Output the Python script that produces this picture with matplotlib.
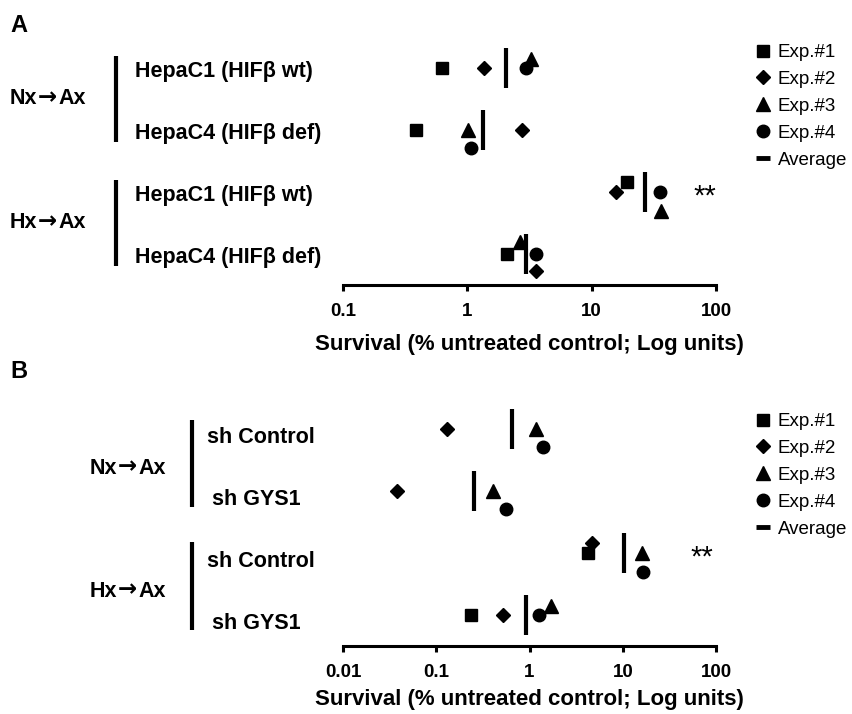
import matplotlib
matplotlib.use('Agg')
import matplotlib.pyplot as plt
from matplotlib.lines import Line2D
from matplotlib.text import Annotation
from matplotlib import transforms
from matplotlib.ticker import FixedLocator, FixedFormatter, NullLocator
import numpy as np

plt.rcParams['font.family'] = ['Liberation Sans', 'DejaVu Sans']

# ---------------- data ----------------
exp_labels = ['Exp.#1', 'Exp.#2', 'Exp.#3', 'Exp.#4', 'Average']
group_labels = [('Nx', '→', 'Ax'), ('Hx', '→', 'Ax')]
x_label = 'Survival (% untreated control; Log units)'

# Panel A (rows top to bottom)
a_rows = ['HepaC1 (HIFβ wt)', 'HepaC4 (HIFβ def)', 'HepaC1 (HIFβ wt)', 'HepaC4 (HIFβ def)']
a_exp1 = [0.63, 0.39, 19.4, 2.09]
a_exp2 = [1.35, 2.76, 15.6, 3.58]
a_exp3 = [3.26, 1.01, 36.0, 2.63]
a_exp4 = [2.94, 1.08, 35.5, 3.58]
a_avg = [2.06, 1.34, 26.7, 2.95]
a_sig = ['', '', '**', '']
a_ticks = [0.1, 1, 10, 100]
a_ticklabels = ['0.1', '1', '10', '100']

# Panel B (rows top to bottom)
b_rows = ['sh Control', 'sh GYS1', 'sh Control', 'sh GYS1']
b_exp1 = [np.nan, np.nan, 4.19, 0.237]
b_exp2 = [0.130, 0.0375, 4.67, 0.526]
b_exp3 = [1.17, 0.405, 16.0, 1.69]
b_exp4 = [1.39, 0.561, 16.6, 1.25]
b_avg = [0.657, 0.255, 10.4, 0.92]
b_sig = ['', '', '**', '']
b_ticks = [0.01, 0.1, 1, 10, 100]
b_ticklabels = ['0.01', '0.1', '1', '10', '100']

# ---------------- layout / style ----------------
W, H = 852, 714
fig = plt.figure(figsize=(W / 100, H / 100), dpi=100)

def fx(px):
    return px / W

def fy(py):
    return 1 - py / H

row_y = [4, 3, 2, 1]
styles = [dict(marker='s', ms=8.5), dict(marker='D', ms=6.8),
          dict(marker='^', ms=9.5), dict(marker='o', ms=9.0)]

# vertical jitter (data units) so overlapping points stay visible
a_dy = [[0, 0, 0.16, 0], [0, 0, 0, -0.28], [0.15, 0, -0.31, 0.19], [0, -0.29, 0, 0]]
b_dy = [[0, 0, 0, 0], [0, 0, 0.16, 0], [0, 0, 0, 0.15], [-0.29, -0.29, -0.30, 0]]

BOLD = dict(fontweight='bold')


def group_label(x_left, y, transform, parts, size):
    t1 = fig.text(x_left, y, parts[0], transform=transform, ha='left',
                  va='center', fontsize=size, **BOLD)
    t2 = Annotation(parts[1], xy=(1, 0), xycoords=t1, xytext=(0.5, 0),
                    textcoords='offset points', ha='left', va='bottom',
                    fontsize=size + 1.0, family='DejaVu Sans', **BOLD)
    fig.add_artist(t2)
    t3 = Annotation(parts[2], xy=(1, 0), xycoords=t2, xytext=(0.5, 0),
                    textcoords='offset points', ha='left', va='bottom',
                    fontsize=size, **BOLD)
    fig.add_artist(t3)


def panel(axbox, series, avg, dy, sig, rows, ticks, ticklabels, xlim,
          bracket_x, brackets, row_label_x, label_dx, row_label_dy,
          group_left, group_dy, sig_x, legend_top, letter, letter_y, labelpad):
    ax = fig.add_axes(axbox)
    ax.set_xscale('log')
    ax.set_xlim(*xlim)
    ax.set_ylim(0.5, 4.5)
    for s, (vals, st) in enumerate(zip(series, styles)):
        ys = [r + d for r, d in zip(row_y, dy[s])]
        ax.plot(vals, ys, linestyle='none', color='black', mec='black',
                label=exp_labels[s], zorder=3, **st)
    ax.vlines(avg, [r - 0.33 for r in row_y], [r + 0.33 for r in row_y],
              color='black', lw=3.0, zorder=2)
    for spn in ['top', 'right', 'left']:
        ax.spines[spn].set_visible(False)
    ax.spines['bottom'].set_linewidth(2.2)
    ax.xaxis.set_major_locator(FixedLocator(ticks))
    ax.xaxis.set_major_formatter(FixedFormatter(ticklabels))
    ax.xaxis.set_minor_locator(NullLocator())
    ax.yaxis.set_major_locator(NullLocator())
    ax.tick_params(axis='x', which='major', length=4.5, width=2.2, pad=8.5,
                   labelsize=13.5)
    for t in ax.get_xticklabels():
        t.set_fontweight('bold')
    ax.set_xlabel(x_label, fontsize=16, labelpad=labelpad, **BOLD)

    blend = transforms.blended_transform_factory(fig.transFigure, ax.transData)
    for i, (r, lab) in enumerate(zip(row_y, rows)):
        fig.text(row_label_x + (label_dx if i % 2 else 0), r - row_label_dy, lab,
                 transform=blend, ha='left', va='center', fontsize=15.5, **BOLD)
    for g, (y0, y1) in enumerate(brackets):
        fig.add_artist(Line2D([bracket_x, bracket_x], [y0, y1], transform=blend,
                              color='black', lw=3.0, solid_capstyle='butt'))
        group_label(group_left, (y0 + y1) / 2 - group_dy, blend,
                    group_labels[g], 15.5)
    blend_ax = transforms.blended_transform_factory(ax.transAxes, ax.transData)
    for r, s in zip(row_y, sig):
        if s:
            ax.text(sig_x, r - 0.08, s, transform=blend_ax, ha='center',
                    va='center', fontsize=21)

    handles = [Line2D([], [], linestyle='none', color='black', **st) for st in styles]
    handles.append(Line2D([], [], linestyle='none', color='black', marker='_',
                          ms=10, mew=3.5))
    ax.legend(handles, exp_labels, loc='upper left',
              bbox_to_anchor=(fx(753.5), legend_top), bbox_transform=fig.transFigure,
              frameon=False, fontsize=13.5, handlelength=1.0, handletextpad=0.3,
              labelspacing=0.52, borderpad=0, borderaxespad=0)
    fig.text(fx(10), letter_y, letter, ha='left', va='center', fontsize=17, **BOLD)
    return ax

# Panel A
panel([fx(343), fy(285), fx(716) - fx(343), 248 / H],
      [a_exp1, a_exp2, a_exp3, a_exp4], a_avg, a_dy, a_sig, a_rows,
      a_ticks, a_ticklabels, (0.1, 100),
      fx(115.7), [(4.2, 2.8), (2.2, 0.8)], fx(135), 0, 0.06,
      fx(10), 0.0, 0.97, fy(44), 'A', fy(25), 10.0)

# Panel B
panel([fx(343), fy(646), fx(716) - fx(343), 248 / H],
      [b_exp1, b_exp2, b_exp3, b_exp4], b_avg, b_dy, b_sig, b_rows,
      b_ticks, b_ticklabels, (0.01, 100),
      fx(191.7), [(4.15, 2.75), (2.17, 0.76)], fx(206.7), 5 / W, 0.13,
      fx(90), 0.08, 0.962, fy(413), 'B', fy(372), 5.5)

fig.savefig('out.png', dpi=100)
